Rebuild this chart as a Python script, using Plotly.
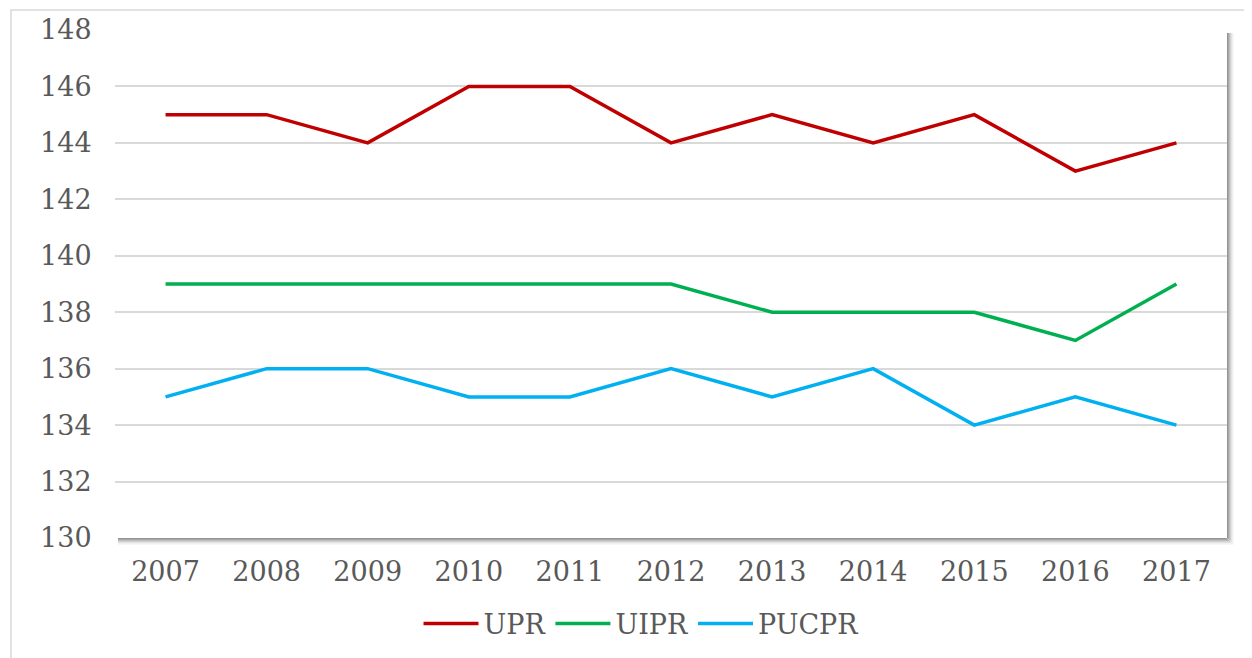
import plotly.graph_objects as go

years = ["2007", "2008", "2009", "2010", "2011", "2012", "2013", "2014", "2015", "2016", "2017"]
upr = [145, 145, 144, 146, 146, 144, 145, 144, 145, 143, 144]
uipr = [139, 139, 139, 139, 139, 139, 138, 138, 138, 137, 139]
pucpr = [135, 136, 136, 135, 135, 136, 135, 136, 134, 135, 134]
y_ticks = [130, 132, 134, 136, 138, 140, 142, 144, 146, 148]

series = [("UPR", upr, "#C00000"), ("UIPR", uipr, "#00B050"), ("PUCPR", pucpr, "#00B0F0")]

FONT = "DejaVu Serif"
fig = go.Figure()
for name, vals, col in series:
    fig.add_trace(go.Scatter(x=years, y=vals, name=name, mode="lines",
                             line=dict(color=col, width=3.5)))

# page has an 8px body margin; figure sized to fit inside the window
W, H = 1244, 650
L, R, T, B = 107, 25, 22, 120
pw, ph = W - L - R, H - T - B

shapes = []
# soft shadow on right and bottom of plot area
for i, op in enumerate([0.42, 0.34, 0.26, 0.18, 0.11, 0.06, 0.03]):
    d = i + 1
    shapes.append(dict(type="line", xref="paper", yref="paper",
                       x0=1 + (d - 0.5) / pw, x1=1 + (d - 0.5) / pw,
                       y0=-(d - 0.5) / ph, y1=1 - 3 / ph,
                       line=dict(color=f"rgba(0,0,0,{op})", width=1)))
    shapes.append(dict(type="line", xref="paper", yref="paper",
                       x0=3 / pw, x1=1 + (d - 1) / pw,
                       y0=-(d - 0.5) / ph, y1=-(d - 0.5) / ph,
                       line=dict(color=f"rgba(0,0,0,{op})", width=1)))
# outer chart border
shapes.append(dict(type="rect", xref="paper", yref="paper",
                   x0=(3 - L) / pw, x1=(W + 20 - L) / pw,
                   y0=-(B + 20) / ph, y1=1 + (T - 2) / ph,
                   line=dict(color="#D9D9D9", width=1.5), fillcolor="rgba(0,0,0,0)", layer="below"))

fig.update_layout(
    width=W, height=H,
    margin=dict(l=L, r=R, t=T, b=B, autoexpand=False),
    paper_bgcolor="white", plot_bgcolor="white",
    font=dict(family=FONT, color="#595959", size=27),
    showlegend=True,
    legend=dict(orientation="h", x=(633 - L) / pw, xanchor="center",
                yref="container", y=1 - 616 / H, yanchor="middle",
                font=dict(size=27, color="#595959"), traceorder="normal",
                itemwidth=55),
    shapes=shapes,
    xaxis=dict(type="category", range=[-0.5, 10.5], showgrid=False,
               ticks="outside", ticklen=10, tickcolor="rgba(0,0,0,0)",
               showline=False, automargin=False,
               tickfont=dict(size=27, color="#595959")),
    yaxis=dict(range=[130, 148], tickvals=y_ticks, showgrid=True, gridcolor="#D9D9D9",
               gridwidth=1.5, zeroline=False, ticks="outside", ticklen=17,
               tickcolor="rgba(0,0,0,0)",
               automargin=False, tickfont=dict(size=27, color="#595959")),
)
fig.write_html("out.html")
